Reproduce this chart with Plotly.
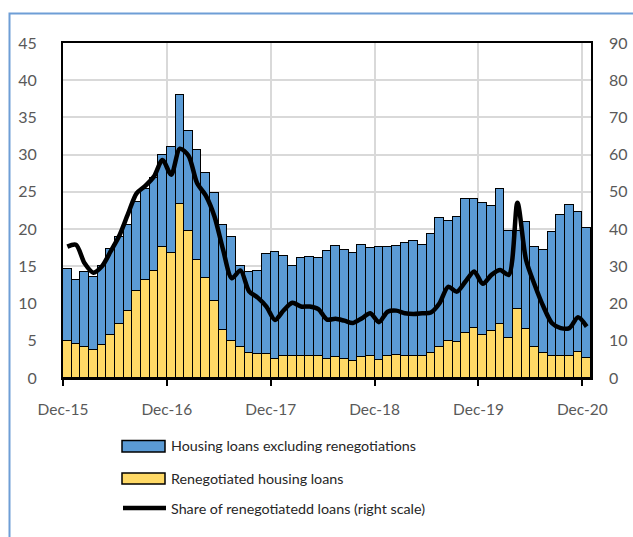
import plotly.graph_objects as go

months = [
    "Dec-15", "Jan-16", "Feb-16", "Mar-16", "Apr-16", "May-16", "Jun-16", "Jul-16", "Aug-16", "Sep-16", "Oct-16", "Nov-16",
    "Dec-16", "Jan-17", "Feb-17", "Mar-17", "Apr-17", "May-17", "Jun-17", "Jul-17", "Aug-17", "Sep-17", "Oct-17", "Nov-17",
    "Dec-17", "Jan-18", "Feb-18", "Mar-18", "Apr-18", "May-18", "Jun-18", "Jul-18", "Aug-18", "Sep-18", "Oct-18", "Nov-18",
    "Dec-18", "Jan-19", "Feb-19", "Mar-19", "Apr-19", "May-19", "Jun-19", "Jul-19", "Aug-19", "Sep-19", "Oct-19", "Nov-19",
    "Dec-19", "Jan-20", "Feb-20", "Mar-20", "Apr-20", "May-20", "Jun-20", "Jul-20", "Aug-20", "Sep-20", "Oct-20", "Nov-20",
    "Dec-20",
]

# Renegotiated housing loans (left scale)
renegotiated = [
    5.0, 4.6, 4.2, 3.8, 4.5, 5.8, 7.2, 9.0, 11.7, 13.2, 14.4, 17.6,
    16.8, 23.4, 19.8, 15.9, 13.5, 10.3, 6.5, 5.0, 4.2, 3.3, 3.2, 3.2,
    2.6, 2.9, 3.0, 3.0, 3.0, 3.0, 2.6, 2.8, 2.6, 2.3, 2.8, 3.0,
    2.4, 3.0, 3.1, 3.0, 3.0, 3.0, 3.3, 4.1, 5.0, 4.9, 6.1, 6.7,
    5.8, 6.3, 7.3, 5.4, 9.3, 6.6, 4.2, 3.3, 2.9, 2.9, 2.9, 3.5,
    2.7,
]

# Housing loans excluding renegotiations (left scale, stacked on top)
excluding = [
    9.7, 8.6, 10.1, 9.8, 10.5, 11.5, 11.8, 11.6, 12.0, 12.2, 12.4, 12.4,
    14.2, 14.6, 13.4, 14.7, 14.1, 14.5, 14.1, 13.9, 10.8, 10.9, 11.2, 13.5,
    14.3, 13.5, 12.0, 13.1, 13.3, 13.1, 14.4, 14.9, 14.6, 14.5, 15.1, 14.4,
    15.2, 14.6, 14.6, 15.1, 15.4, 14.8, 16.1, 17.4, 16.1, 16.7, 18.0, 17.3,
    17.7, 16.8, 18.1, 14.4, 10.5, 14.4, 13.4, 13.9, 16.7, 19.0, 20.3, 18.8,
    17.5,
]

# Share of renegotiated loans, % (right scale)
share = [
    35.3, 35.8, 30.8, 28.3, 30.0, 34.0, 38.2, 44.0, 49.6, 51.6, 54.1, 58.6,
    54.6, 61.6, 59.7, 52.3, 49.0, 43.4, 34.4, 26.8, 28.9, 23.3, 21.6, 19.2,
    15.6, 18.2, 20.2, 19.2, 19.2, 18.5, 15.7, 15.9, 15.4, 14.8, 16.0, 17.4,
    15.0, 17.8, 18.1, 17.4, 17.2, 17.4, 17.6, 20.1, 24.5, 23.2, 25.9, 28.6,
    25.3, 27.7, 29.0, 27.7, 47.1, 31.7, 25.0, 19.2, 14.7, 13.4, 13.4, 16.3,
    13.8,
]

tick_labels = ["Dec-15", "Dec-16", "Dec-17", "Dec-18", "Dec-19", "Dec-20"]
left_ticks = [0, 5, 10, 15, 20, 25, 30, 35, 40, 45]
right_ticks = [0, 10, 20, 30, 40, 50, 60, 70, 80, 90]

legend_names = [
    "Housing loans excluding renegotiations",
    "Renegotiated housing loans",
    "Share of renegotiatedd loans (right scale)",
]

BLUE = "#5B9BD5"
YELLOW = "#FFD966"
GRID = "#D9D9D9"
TXT = "#595959"
FONT = "Lato"

x = list(range(len(months)))
tickpos = [months.index(t) - 0.5 for t in tick_labels]

W, H = 633, 537
L, R, T, B = 63, 591, 43, 378


def px(v):
    return (v - L) / (R - L)


def py(v):
    return (B - v) / (B - T)


fig = go.Figure()
fig.add_trace(go.Bar(
    x=x, y=renegotiated, name=legend_names[1],
    marker=dict(color=YELLOW, line=dict(color="black", width=1.5)),
    yaxis="y",
))
fig.add_trace(go.Bar(
    x=x, y=excluding, name=legend_names[0],
    marker=dict(color=BLUE, line=dict(color="black", width=1.5)),
    yaxis="y",
))
fig.add_trace(go.Scatter(
    x=x, y=share, name=legend_names[2], mode="lines",
    line=dict(color="black", width=4.5, shape="spline", smoothing=0.8),
    yaxis="y2",
))

shapes = []
# document frame (light blue)
shapes.append(dict(type="rect", xref="paper", yref="paper",
                   x0=px(9.5), x1=px(700), y0=py(13.5), y1=py(700),
                   line=dict(color="#6E9ED6", width=2), fillcolor="rgba(0,0,0,0)", layer="above"))
# legend symbols
shapes.append(dict(type="rect", xref="paper", yref="paper",
                   x0=px(122), x1=px(165), y0=py(452), y1=py(440.5),
                   line=dict(color="black", width=1.5), fillcolor=BLUE))
shapes.append(dict(type="rect", xref="paper", yref="paper",
                   x0=px(122), x1=px(165), y0=py(484), y1=py(473),
                   line=dict(color="black", width=1.5), fillcolor=YELLOW))
shapes.append(dict(type="line", xref="paper", yref="paper",
                   x0=px(123), x1=px(166), y0=py(508), y1=py(508),
                   line=dict(color="black", width=4.5)))

annotations = []
for name, yy in zip(legend_names, [446, 478.5, 508.5]):
    annotations.append(dict(text=name, xref="paper", yref="paper",
                            x=px(169), y=py(yy), xanchor="left", yanchor="middle",
                            showarrow=False, font=dict(family=FONT, size=14.3, color="#262626")))

fig.update_layout(
    width=W, height=H, autosize=False,
    margin=dict(l=L, r=W - R, t=T, b=H - B, pad=0),
    paper_bgcolor="white", plot_bgcolor="white",
    barmode="stack", bargap=0,
    showlegend=False,
    font=dict(family=FONT, size=16, color=TXT),
    shapes=shapes, annotations=annotations,
    xaxis=dict(
        range=[-0.5, len(months) - 0.5], automargin=False,
        tickmode="array", tickvals=tickpos, ticktext=tick_labels,
        ticks="outside", ticklen=6, tickwidth=1.5, tickcolor="black",
        ticklabelstandoff=10,
        showgrid=True, gridcolor=GRID, gridwidth=2,
        showline=True, linecolor="black", linewidth=2, mirror=True,
        zeroline=False,
        tickfont=dict(family=FONT, size=15.5, color=TXT),
    ),
    yaxis=dict(
        range=[0, 45], tickmode="array", tickvals=left_ticks, automargin=False,
        showgrid=True, gridcolor=GRID, gridwidth=2,
        showline=True, linecolor="black", linewidth=2, mirror=True,
        zeroline=False, ticks="",
        ticklabelstandoff=21,
        tickfont=dict(family=FONT, size=16, color=TXT),
    ),
    yaxis2=dict(
        range=[0, 90], tickmode="array", tickvals=right_ticks, automargin=False,
        overlaying="y", side="right",
        showgrid=False, showline=False, zeroline=False, ticks="",
        ticklabelstandoff=17,
        tickfont=dict(family=FONT, size=16, color=TXT),
    ),
)

fig.write_html(
    "out.html",
    config={"displayModeBar": False},
    post_script="document.body.style.margin='0';document.body.style.overflow='hidden';",
)
